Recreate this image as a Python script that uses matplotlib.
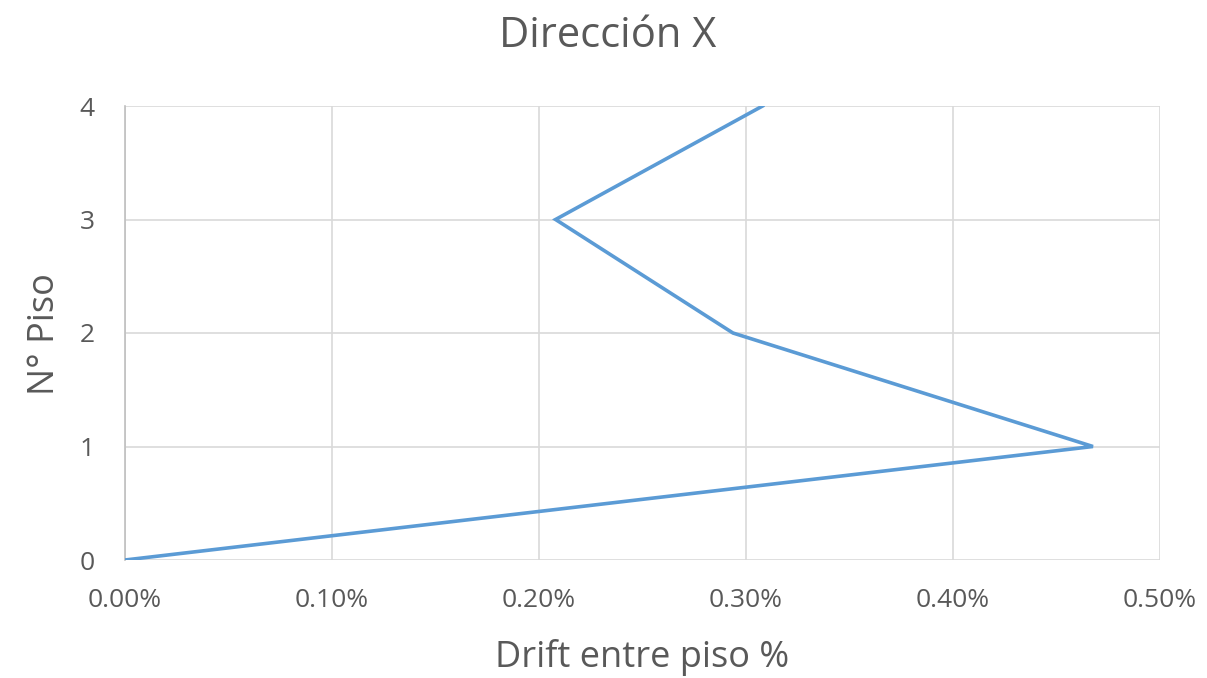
import matplotlib
matplotlib.use("Agg")
import matplotlib.pyplot as plt
from matplotlib.ticker import FuncFormatter

# Inter-storey drift (%) per floor
floors = [0, 1, 2, 3, 4]
drift_pct = [0.0, 0.4676, 0.2937, 0.2080, 0.3080]
x_ticks = [0.0, 0.1, 0.2, 0.3, 0.4, 0.5]
y_ticks = [0, 1, 2, 3, 4]

plt.rcParams['font.family'] = ['Open Sans', 'DejaVu Sans']
text_color = '#595959'
grid_color = '#D9D9D9'

W, H = 1207, 678
fig = plt.figure(figsize=(W / 100, H / 100), dpi=100)
ax = fig.add_axes([125 / W, 1 - 560 / H, (1160 - 125) / W, (560 - 106) / H])

ax.plot(drift_pct, floors, color='#5B9BD5', linewidth=2.6, solid_joinstyle='miter', zorder=3)

ax.set_xlim(0, 0.5)
ax.set_ylim(0, 4)
ax.set_xticks(x_ticks)
ax.set_yticks(y_ticks)
ax.xaxis.set_major_formatter(FuncFormatter(lambda v, p: f"{v:.2f}%"))
ax.grid(True, color=grid_color, linewidth=1.2)
ax.set_axisbelow(True)
for side in ['top', 'right', 'bottom']:
    ax.spines[side].set_visible(False)
ax.spines['left'].set_color('#BFBFBF')
ax.spines['left'].set_linewidth(1.2)
ax.tick_params(length=0, colors=text_color, labelsize=19)
ax.tick_params(axis='x', pad=20)
ax.tick_params(axis='y', pad=22)

fig.text(608 / W, 1 - 47 / H, 'Dirección X', fontsize=30, color=text_color,
         ha='center', va='baseline')

ax.set_xlabel('Drift entre piso %', fontsize=26, color=text_color)
ax.xaxis.set_label_coords(0.5, (560 - 658) / 454)
ax.xaxis.label.set_va('center')
ax.set_ylabel('N° Piso', fontsize=26, color=text_color)
ax.yaxis.set_label_coords((45 - 125) / 1035, (560 - 334) / 454)
ax.yaxis.label.set_va('center')
ax.yaxis.label.set_ha('center')

fig.savefig('out.png', dpi=100, facecolor='white')
